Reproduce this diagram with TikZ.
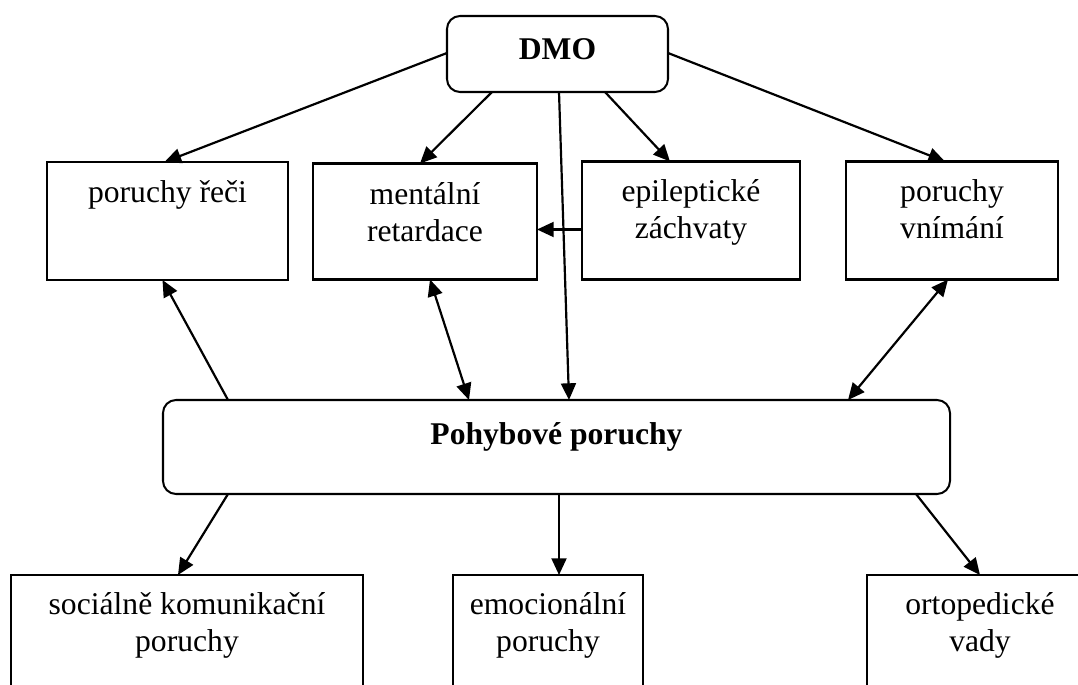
\documentclass[tikz,border=0pt]{standalone}
\usepackage{fontspec}
\setmainfont{Liberation Serif}
\usetikzlibrary{arrows.meta}
\newdimen\px \px=0.02cm
\newcommand\tb[4]{\parbox[c][#2\px][t]{#1\px}{\centering\vspace*{#3\px}\strut #4}}
\begin{document}
\begin{tikzpicture}[x=0.02cm,y=-0.02cm,
  box/.style={draw, line width=1.15pt, inner sep=0pt, outer sep=0pt, font=\fontsize{18}{21}\selectfont},
  rbox/.style={box, rounded corners=0.26cm},
  tip/.tip={Triangle[length=9.5pt,width=8.5pt]},
  arr/.style={line width=1.25pt, -tip},
  darr/.style={line width=1.25pt, tip-tip}]
\useasboundingbox (0,0) rectangle (1078,685);
\clip (0,0) rectangle (1078,685);
% nodes
\node[rbox] (dmo) at (557.5,54) {\tb{221}{76}{18}{\textbf{DMO}}};
\node[box] (reci) at (167.5,221) {\tb{241}{118}{15}{poruchy řeči}};
\node[box] (ment) at (425,221.5) {\tb{224}{116}{15}{mentální\\retardace}};
\node[box] (epil) at (691,220.5) {\tb{218}{118}{14}{epileptické\\záchvaty}};
\node[box] (vnim) at (952,220.5) {\tb{212}{118}{14}{poruchy\\vnímání}};
\node[rbox] (poh) at (556.5,447) {\tb{787}{94}{19}{\textbf{Pohybové poruchy}}};
\node[box] (soc) at (187,637.5) {\tb{352}{125}{14}{sociálně komunikační\\poruchy}};
\node[box] (emo) at (548,637.5) {\tb{190}{125}{14}{emocionální\\poruchy}};
\node[box] (ort) at (980,637.5) {\tb{226}{125}{14}{ortopedické\\vady}};
% connectors from DMO
\draw[arr] ([yshift=1\px]dmo.west) -- ([xshift=-3\px]reci.north);
\draw[arr] ([xshift=45\px]dmo.south west) -- ([xshift=-5\px]ment.north);
\draw[arr] ([xshift=112\px]dmo.south west) -- ([xshift=406\px]poh.north west);
\draw[arr] ([xshift=158\px]dmo.south west) -- ([xshift=-21\px]epil.north);
\draw[arr] ([yshift=1\px]dmo.east) -- ([xshift=-7\px]vnim.north);
% epileptic -> mental
\coordinate (ea) at ([yshift=-9\px]epil.west);
\draw[arr] (ea) -- (ment.east |- ea);
% Pohybove connections
\draw[arr] ([xshift=65\px]poh.north west) -- ([xshift=-5\px]reci.south);
\draw[darr] ([xshift=5\px]ment.south) -- ([xshift=306\px]poh.north west);
\draw[darr] ([xshift=-4\px]vnim.south) -- ([xshift=685\px]poh.north west);
\draw[arr] ([xshift=65\px]poh.south west) -- ([xshift=-9\px]soc.north);
\draw[arr] ([xshift=396\px]poh.south west) -- ([xshift=106\px]emo.north west);
\draw[arr] ([xshift=753\px]poh.south west) -- ([xshift=113\px]ort.north west);
\end{tikzpicture}
\end{document}
